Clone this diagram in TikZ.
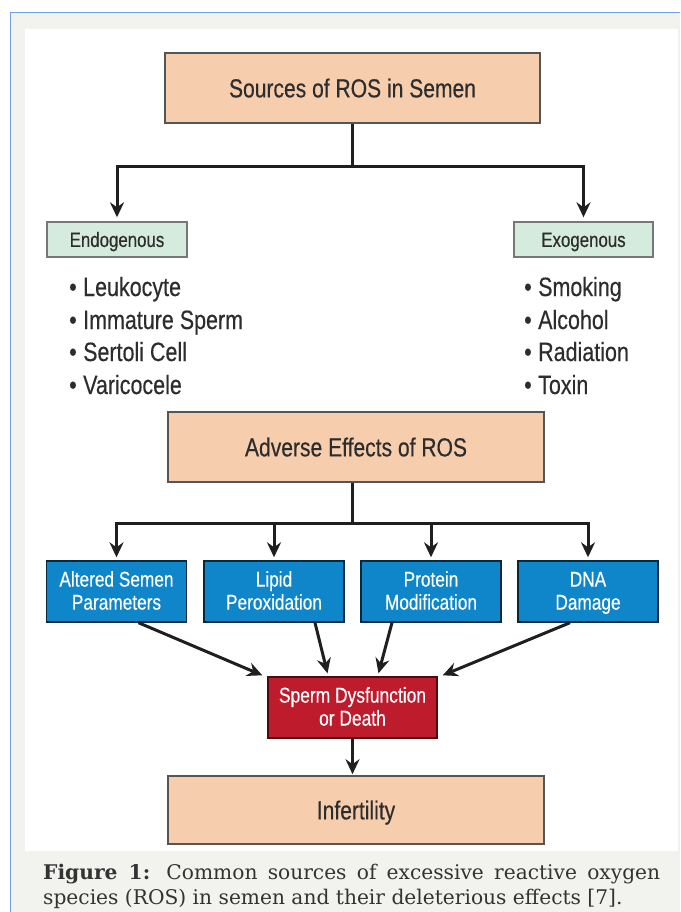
\documentclass[tikz,border=0pt]{standalone}
\usepackage{fontspec}
\setmainfont{Liberation Sans}[FakeStretch=0.81,FakeBold=0.35]
\newfontfamily\capfont{DejaVu Serif}
\usetikzlibrary{arrows.meta,calc}
\definecolor{bgray}{RGB}{242,243,238}
\definecolor{frameblue}{RGB}{110,160,232}
\definecolor{peach}{RGB}{247,206,173}
\definecolor{mint}{RGB}{213,235,221}
\definecolor{bluebox}{RGB}{16,134,202}
\definecolor{redbox}{RGB}{190,28,45}
\definecolor{txt}{RGB}{45,45,45}
\definecolor{edge}{RGB}{85,85,85}
\tikzset{
  peachbox/.style={draw=edge, line width=1.6pt, fill=peach, text=txt, minimum width=375pt, inner sep=0pt, text height=18.7pt, text depth=0pt, font=\fontsize{26}{30}\selectfont},
  greenbox/.style={draw=edge!80, line width=1.4pt, fill=mint, text=txt, minimum height=35pt, inner sep=0pt, text height=14.9pt, text depth=0pt, font=\fontsize{20.8}{24}\selectfont},
  bluebx/.style={draw=black!70!bluebox, line width=1.4pt, fill=bluebox, text=white, minimum width=140pt, minimum height=61pt, inner sep=0pt, align=center, font=\fontsize{21.3}{23}\selectfont},
  redbx/.style={draw=black!60!redbox, line width=1.4pt, fill=redbox, text=white, minimum width=169pt, minimum height=61pt, inner sep=0pt, align=center, font=\fontsize{21.5}{23}\selectfont},
  bul/.style={text=txt, inner sep=0pt, anchor=base west, font=\fontsize{26.5}{28}\selectfont},
  conn/.style={line width=3pt, draw=black!88, line join=miter},
  arr/.style={conn, -{Stealth[length=15pt,width=14pt,inset=5pt]}},
}
\newcommand{\bl}{\textbullet\hspace{6.5pt}}
\newcommand{\bs}{\rule[-4.9pt]{0pt}{23pt}}
\begin{document}
\begin{tikzpicture}[x=1pt,y=-1pt]
\useasboundingbox (0,0) rectangle (680,912);
% background frame
\fill[bgray] (10,12.5) rectangle (680,912);
\draw[frameblue, line width=1.2pt] (10.5,912) -- (10.5,12.5) -- (680,12.5);
\fill[white] (25,29) rectangle (678,851);

% top part
\node[peachbox, minimum height=70pt] (src) at (352.5,88) {Sources of ROS in Semen};
\node[greenbox, minimum width=140pt] (endo) at (117,239.5) {Endogenous};
\node[greenbox, minimum width=139pt] (exo) at (583.5,239.5) {Exogenous};
\coordinate (j1) at (352.5,167);
\draw[conn] (src.south) -- (j1);
\draw[arr, shorten >=4pt] (j1) -| (endo.north);
\draw[arr, shorten >=4pt] (j1) -| (exo.north);

% lists
\node[bul] (l1) at (69,296) {\bl Leukocyte};
\node[bul] (l2) at (69,329) {\bl Immature Sperm};
\node[bul] (l3) at (69,361) {\bl Sertoli Cell};
\node[bul] (l4) at (69,394) {\bl Varicocele};
\node[bul] (r1) at (524,296) {\bl Smoking};
\node[bul] (r2) at (524,329) {\bl Alcohol};
\node[bul] (r3) at (524,361) {\bl Radiation};
\node[bul] (r4) at (524,394) {\bl Toxin};

% adverse effects
\node[peachbox, minimum width=376pt, minimum height=70pt] (adv) at (356,447) {Adverse Effects of ROS};
\node[bluebx] (b1) at (116.5,591.5) {Altered Semen\bs\\Parameters\bs};
\node[bluebx] (b2) at (274,591.5) {Lipid\bs\\Peroxidation\bs};
\node[bluebx] (b3) at (431,591.5) {Protein\bs\\Modification\bs};
\node[bluebx] (b4) at (588,591.5) {DNA\bs\\Damage\bs};
\coordinate (j2) at (352,523);
\draw[conn] (adv.south -| j2) -- (j2);
\draw[arr, shorten >=3pt] (j2) -| (b1.north);
\draw[arr, shorten >=3pt] (j2) -| (b2.north);
\draw[arr, shorten >=3pt] (j2) -| (b3.north);
\draw[arr, shorten >=3pt] (j2) -| (b4.north);

% sperm dysfunction
\node[redbx] (red) at (352.5,707.5) {Sperm Dysfunction\bs\\or Death\bs};
\draw[arr] ([xshift=22pt]b1.south) -- ([xshift=-5pt,yshift=1pt]red.north west);
\draw[arr] ([xshift=41pt]b2.south) -- ([xshift=-25pt,yshift=3pt]red.north);
\draw[arr] ([xshift=-39pt]b3.south) -- ([xshift=26pt,yshift=3pt]red.north);
\draw[arr] ([xshift=-18pt]b4.south) -- ([xshift=5pt,yshift=1pt]red.north east);

% infertility
\node[peachbox, minimum width=376pt, minimum height=68pt] (inf) at (356,810) {Infertility};
\draw[arr, shorten >=1pt] (red.south) -- (red.south |- inf.north);

% caption
\node[anchor=north west, inner sep=0pt, text width=617pt, align=justify, text=black!80,
      font=\capfont\fontsize{20.2}{25}\selectfont] (cap) at (43,864)
 {\textbf{Figure 1:} Common sources of excessive reactive oxygen\linebreak species (ROS) in semen and their deleterious effects [7].};
\end{tikzpicture}
\end{document}
